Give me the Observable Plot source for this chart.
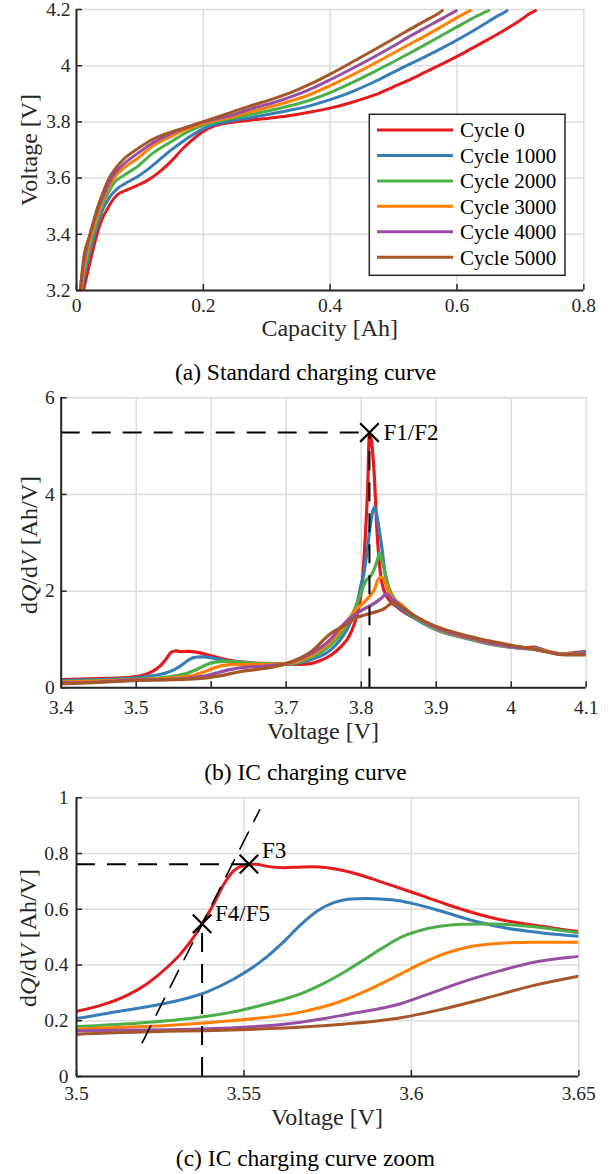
<!DOCTYPE html>
<html>
<head>
<meta charset="utf-8">
<script src="https://cdn.jsdelivr.net/npm/d3@7"></script>
<script src="https://cdn.jsdelivr.net/npm/@observablehq/plot@0.6"></script>
<style>
  body { margin: 0; background: #fff; }
  #page { position: relative; width: 611px; height: 1174px; font-family: "Liberation Serif", serif; }
  .caption { position: absolute; left: 0; width: 611px; text-align: center; font-size: 23.5px; line-height: 24px; color: #000; }
</style>
</head>
<body>
<div id="page"></div>
<script>
// ---- series labels and colours ----
const cycles = ["Cycle 0", "Cycle 1000", "Cycle 2000", "Cycle 3000", "Cycle 4000", "Cycle 5000"];
const cycleColors = ["#e41a1c", "#377eb8", "#4daf4a", "#ff7f00", "#984ea3", "#a65628"];

// ---- standard charging curves: [capacity Ah, voltage V] ----
const charge0 = [[0.011,3.2],[0.016,3.25],[0.022,3.307],[0.0326,3.402],[0.043,3.467],[0.048,3.487],[0.055,3.515],[0.064,3.540],[0.080,3.558],[0.096,3.574],[0.112,3.592],[0.127,3.615],[0.148,3.657],[0.169,3.708],[0.190,3.750],[0.201,3.768],[0.215,3.783],[0.24,3.797],[0.274,3.806],[0.31,3.815],[0.34,3.824],[0.369,3.835],[0.40,3.849],[0.435,3.870],[0.469,3.895],[0.50,3.925],[0.5215,3.946],[0.55,3.977],[0.58,4.010],[0.61,4.045],[0.64,4.082],[0.67,4.120],[0.70,4.162],[0.718,4.190],[0.724,4.196]];
const charge1000 = [[0.008,3.2],[0.013,3.26],[0.019,3.318],[0.0326,3.431],[0.043,3.496],[0.048,3.516],[0.055,3.540],[0.064,3.562],[0.077,3.581],[0.096,3.605],[0.112,3.630],[0.127,3.658],[0.148,3.698],[0.175,3.742],[0.201,3.777],[0.22,3.792],[0.24,3.802],[0.274,3.815],[0.31,3.830],[0.34,3.843],[0.369,3.858],[0.40,3.879],[0.435,3.908],[0.469,3.942],[0.50,3.977],[0.5215,4.001],[0.55,4.032],[0.58,4.067],[0.61,4.104],[0.64,4.144],[0.665,4.178],[0.675,4.190],[0.679,4.196]];
const charge2000 = [[0.007,3.2],[0.012,3.27],[0.018,3.33],[0.0326,3.45],[0.043,3.515],[0.052,3.556],[0.059,3.582],[0.077,3.613],[0.096,3.641],[0.12,3.688],[0.148,3.728],[0.175,3.764],[0.201,3.789],[0.22,3.801],[0.24,3.810],[0.274,3.826],[0.31,3.843],[0.34,3.859],[0.369,3.878],[0.40,3.904],[0.435,3.940],[0.469,3.978],[0.50,4.014],[0.5215,4.040],[0.55,4.075],[0.58,4.113],[0.60,4.138],[0.62,4.163],[0.64,4.186],[0.650,4.196]];
const charge3000 = [[0.007,3.2],[0.011,3.27],[0.017,3.34],[0.0326,3.465],[0.043,3.53],[0.052,3.574],[0.059,3.600],[0.077,3.640],[0.096,3.670],[0.12,3.713],[0.148,3.747],[0.175,3.775],[0.201,3.795],[0.22,3.806],[0.24,3.815],[0.274,3.836],[0.31,3.856],[0.34,3.876],[0.369,3.898],[0.40,3.929],[0.435,3.967],[0.469,4.007],[0.50,4.045],[0.5215,4.072],[0.55,4.106],[0.58,4.145],[0.60,4.171],[0.614,4.188],[0.621,4.196]];
const charge4000 = [[0.006,3.2],[0.01,3.28],[0.016,3.35],[0.0326,3.48],[0.043,3.54],[0.052,3.586],[0.059,3.613],[0.077,3.655],[0.096,3.687],[0.12,3.725],[0.148,3.757],[0.175,3.782],[0.201,3.800],[0.22,3.811],[0.24,3.821],[0.274,3.846],[0.31,3.868],[0.34,3.891],[0.369,3.917],[0.40,3.950],[0.435,3.990],[0.469,4.031],[0.50,4.070],[0.5215,4.099],[0.55,4.135],[0.58,4.172],[0.594,4.190],[0.599,4.196]];
const charge5000 = [[0.006,3.2],[0.0115,3.318],[0.02,3.39],[0.0326,3.491],[0.043,3.556],[0.051,3.598],[0.059,3.627],[0.075,3.669],[0.096,3.704],[0.122,3.740],[0.148,3.763],[0.175,3.782],[0.201,3.802],[0.232,3.825],[0.274,3.857],[0.31,3.882],[0.34,3.906],[0.369,3.935],[0.40,3.970],[0.435,4.013],[0.469,4.056],[0.50,4.096],[0.5215,4.124],[0.55,4.160],[0.57,4.185],[0.577,4.196]];

// ---- incremental capacity curves: [voltage V, dQ/dV Ah/V] ----
const ic0 = [[3.40,0.172],[3.45,0.19],[3.48,0.205],[3.50,0.234],[3.5072,0.255],[3.5151,0.291],[3.5211,0.333],[3.5271,0.392],[3.5311,0.44],[3.535,0.50],[3.5375,0.548],[3.541,0.62],[3.544,0.69],[3.547,0.739],[3.550,0.757],[3.5535,0.762],[3.557,0.754],[3.562,0.749],[3.567,0.752],[3.571,0.753],[3.575,0.749],[3.58,0.738],[3.585,0.722],[3.59,0.702],[3.595,0.682],[3.60,0.662],[3.605,0.641],[3.61,0.620],[3.615,0.600],[3.62,0.582],[3.625,0.567],[3.63,0.555],[3.64,0.537],[3.65,0.52],[3.67,0.505],[3.70,0.49],[3.72,0.485],[3.7324,0.50],[3.745,0.56],[3.759,0.668],[3.7724,0.84],[3.7857,1.12],[3.7947,1.53],[3.8013,2.15],[3.8057,3.19],[3.8088,4.22],[3.811,5.28],[3.8168,4.56],[3.8213,3.19],[3.8257,2.36],[3.8324,1.94],[3.848,1.67],[3.87,1.45],[3.90,1.22],[3.94,1.04],[3.97,0.93],[4.0,0.86],[4.02,0.83],[4.03,0.84],[4.04,0.80],[4.05,0.75],[4.07,0.70],[4.085,0.73],[4.1,0.75]];
const ic1000 = [[3.40,0.15],[3.45,0.17],[3.50,0.208],[3.5122,0.233],[3.5251,0.259],[3.533,0.281],[3.539,0.304],[3.547,0.350],[3.555,0.412],[3.562,0.485],[3.567,0.545],[3.5718,0.593],[3.5768,0.624],[3.5818,0.637],[3.5868,0.639],[3.5948,0.633],[3.5998,0.622],[3.6087,0.594],[3.6187,0.558],[3.6286,0.532],[3.6386,0.516],[3.65,0.503],[3.67,0.49],[3.70,0.49],[3.7324,0.58],[3.759,0.78],[3.7724,1.0],[3.7857,1.35],[3.7947,1.75],[3.799,2.08],[3.8035,2.36],[3.808,2.84],[3.8124,3.39],[3.8177,3.74],[3.8235,3.32],[3.828,2.84],[3.8324,2.29],[3.839,1.87],[3.857,1.6],[3.87,1.45],[3.90,1.20],[3.94,1.02],[3.97,0.91],[4.0,0.84],[4.02,0.81],[4.033,0.82],[4.045,0.76],[4.07,0.69],[4.085,0.72],[4.1,0.74]];
const ic2000 = [[3.40,0.13],[3.45,0.15],[3.50,0.179],[3.52,0.193],[3.535,0.21],[3.547,0.232],[3.555,0.255],[3.562,0.277],[3.568,0.302],[3.574,0.335],[3.58,0.375],[3.586,0.42],[3.592,0.466],[3.597,0.500],[3.602,0.522],[3.608,0.538],[3.615,0.546],[3.625,0.547],[3.636,0.538],[3.65,0.516],[3.67,0.50],[3.70,0.495],[3.7324,0.62],[3.759,0.88],[3.7724,1.1],[3.786,1.45],[3.797,1.85],[3.8057,2.2],[3.8146,2.36],[3.8213,2.63],[3.8244,2.79],[3.830,2.5],[3.8368,2.08],[3.8457,1.81],[3.86,1.6],[3.87,1.47],[3.90,1.21],[3.94,1.03],[3.97,0.92],[4.0,0.84],[4.03,0.80],[4.05,0.74],[4.07,0.70],[4.1,0.73]];
const ic3000 = [[3.40,0.12],[3.45,0.14],[3.50,0.171],[3.5271,0.183],[3.547,0.201],[3.567,0.231],[3.5768,0.261],[3.5868,0.309],[3.5948,0.356],[3.6017,0.398],[3.6097,0.44],[3.6167,0.464],[3.6266,0.478],[3.6366,0.482],[3.65,0.482],[3.67,0.485],[3.70,0.50],[3.7324,0.66],[3.759,0.95],[3.7724,1.18],[3.786,1.48],[3.7947,1.65],[3.799,1.70],[3.808,1.84],[3.8168,2.01],[3.8235,2.26],[3.828,2.29],[3.8324,2.15],[3.8413,1.87],[3.852,1.74],[3.87,1.5],[3.90,1.23],[3.94,1.04],[3.97,0.93],[4.0,0.85],[4.03,0.81],[4.05,0.75],[4.07,0.70],[4.1,0.72]];
const ic4000 = [[3.40,0.10],[3.45,0.12],[3.50,0.163],[3.537,0.170],[3.567,0.195],[3.5818,0.225],[3.5968,0.261],[3.6067,0.303],[3.6167,0.345],[3.6266,0.38],[3.6366,0.41],[3.65,0.431],[3.67,0.45],[3.70,0.50],[3.7324,0.70],[3.759,1.0],[3.7724,1.25],[3.786,1.45],[3.8035,1.63],[3.8168,1.74],[3.8257,1.84],[3.8337,1.94],[3.8413,1.84],[3.852,1.70],[3.87,1.5],[3.90,1.24],[3.94,1.05],[3.97,0.94],[4.0,0.85],[4.03,0.80],[4.05,0.74],[4.07,0.69],[4.1,0.72]];
const ic5000 = [[3.40,0.083],[3.45,0.11],[3.50,0.151],[3.5699,0.179],[3.5818,0.19],[3.5968,0.211],[3.6087,0.24],[3.6217,0.279],[3.6366,0.327],[3.6495,0.359],[3.67,0.40],[3.70,0.50],[3.7324,0.74],[3.759,1.12],[3.7813,1.32],[3.7947,1.46],[3.8035,1.50],[3.8168,1.56],[3.830,1.63],[3.8422,1.75],[3.852,1.69],[3.87,1.50],[3.90,1.27],[3.94,1.08],[3.97,0.97],[4.0,0.88],[4.03,0.80],[4.05,0.73],[4.07,0.68],[4.1,0.68]];

// ---- extracted features ----
const featureF12 = [{v: 3.811, q: 5.28, label: "F1/F2"}];
const featureF3 = [{v: 3.5515, q: 0.762, label: "F3"}];
const featureF45 = [{v: 3.5375, q: 0.548, label: "F4/F5"}];
const tangentF45 = [[3.5196, 0.121], [3.5547, 0.957]];

// ---- axis ticks ----
const capTicks = [0, 0.2, 0.4, 0.6, 0.8];
const voltTicksA = [3.2, 3.4, 3.6, 3.8, 4, 4.2];
const voltTicksB = [3.4, 3.5, 3.6, 3.7, 3.8, 3.9, 4, 4.1];
const icTicksB = [0, 2, 4, 6];
const voltTicksC = [3.5, 3.55, 3.6, 3.65];
const icTicksC = [0, 0.2, 0.4, 0.6, 0.8, 1];

// ---- tables ----
const chargeRows = [charge0, charge1000, charge2000, charge3000, charge4000, charge5000]
  .flatMap((pts, i) => pts.map(([cap, volt]) => ({cycle: cycles[i], cap, volt})));
const icRows = [ic0, ic1000, ic2000, ic3000, ic4000, ic5000]
  .flatMap((pts, i) => pts.map(([volt, dqdv]) => ({cycle: cycles[i], volt, dqdv})));

const W = 611;
const INK = "#262626";
const GRID = "#dcdcdc";
const FONT = "Liberation Serif, serif";
const TICK_FONT = 19.5;
const LABEL_FONT = 24;
const page = document.getElementById("page");

// frame: light grid, inward ticks, dark left/bottom axis lines, tick labels
function frameMarks({xTicks, yTicks, xDomain, yDomain, plotW, plotH, xPad, yPad}) {
  return {
    back: [
      Plot.gridX(xTicks, {stroke: GRID, strokeOpacity: 1, strokeWidth: 1.5}),
      Plot.gridY(yTicks, {stroke: GRID, strokeOpacity: 1, strokeWidth: 1.5})
    ],
    front: [
      Plot.ruleX(xTicks, {insetTop: plotH - 6, stroke: INK, strokeWidth: 1.5}),
      Plot.ruleY(yTicks, {insetRight: plotW - 6, stroke: INK, strokeWidth: 1.5}),
      Plot.ruleY([yDomain[0]], {stroke: INK, strokeWidth: 2}),
      Plot.ruleX([xDomain[0]], {stroke: INK, strokeWidth: 2}),
      Plot.axisX(xTicks, {tickSize: 0, tickPadding: xPad, tickFormat: d => String(d), fill: INK, fontFamily: FONT, label: null}),
      Plot.axisY(yTicks, {tickSize: 0, tickPadding: yPad, tickFormat: d => String(d), fill: INK, fontFamily: FONT, label: null})
    ]
  };
}

function makePanel({top, height, ml, mr, mt, mb, xDomain, yDomain, xTicks, yTicks, xPad, yPad, marks}) {
  const plotW = W - ml - mr, plotH = height - mt - mb;
  const f = frameMarks({xTicks, yTicks, xDomain, yDomain, plotW, plotH, xPad, yPad});
  const svg = Plot.plot({
    width: W, height,
    marginLeft: ml, marginRight: mr, marginTop: mt, marginBottom: mb,
    x: {domain: xDomain, label: null},
    y: {domain: yDomain, label: null},
    color: {domain: cycles, range: cycleColors},
    style: `font-family: ${FONT}; font-size: ${TICK_FONT}px; background: white; overflow: visible;`,
    marks: [...f.back, ...marks, ...f.front]
  });
  svg.setAttribute("font-family", FONT);
  svg.style.fontFamily = FONT;
  svg.style.position = "absolute";
  svg.style.left = "0px";
  svg.style.top = top + "px";
  page.appendChild(svg);
  return d3.select(svg);
}

function addText(sel, x, y, text, size, opts = {}) {
  return sel.append("text").attr("x", x).attr("y", y).attr("dy", "0.35em")
    .attr("text-anchor", opts.anchor || "middle").attr("font-family", FONT)
    .attr("font-size", size).attr("fill", opts.fill || INK).text(text);
}
function addIcLabel(sel, x, y) {
  const t = sel.append("text").attr("transform", `translate(${x},${y}) rotate(-90)`)
    .attr("dy", "0.35em").attr("text-anchor", "middle").attr("font-family", FONT)
    .attr("font-size", LABEL_FONT).attr("fill", INK);
  t.append("tspan").text("d");
  t.append("tspan").attr("font-style", "italic").text("Q");
  t.append("tspan").text("/d");
  t.append("tspan").attr("font-style", "italic").text("V");
  t.append("tspan").text(" [Ah/V]");
}
function addCaption(text, centerY) {
  const div = document.createElement("div");
  div.className = "caption";
  div.style.top = (centerY - 12) + "px";
  div.textContent = text;
  page.appendChild(div);
}

const DASH = "19,12";
const lineOpts = {z: "cycle", stroke: "cycle", curve: "monotone-x", strokeLinejoin: "round", strokeLinecap: "round", clip: true};

// ---- (a) standard charging curve ----
const svgA = makePanel({
  top: 0, height: 350, ml: 76, mr: 27.7, mt: 9, mb: 60,
  xDomain: [0, 0.8], yDomain: [3.2, 4.2], xTicks: capTicks, yTicks: voltTicksA, xPad: 7.6, yPad: 6,
  marks: [Plot.line(chargeRows, {...lineOpts, x: "cap", y: "volt", strokeWidth: 3})]
});
addText(svgA, 329.7, 328, "Capacity [Ah]", LABEL_FONT);
svgA.append("text").attr("transform", "translate(29,150) rotate(-90)").attr("dy", "0.35em")
  .attr("text-anchor", "middle").attr("font-family", FONT).attr("font-size", LABEL_FONT)
  .attr("fill", INK).text("Voltage [V]");

// legend box
const legend = svgA.append("g");
legend.append("rect").attr("x", 369.3).attr("y", 114.3).attr("width", 195.7).attr("height", 161)
  .attr("fill", "white").attr("stroke", INK).attr("stroke-width", 1.5);
cycles.forEach((name, i) => {
  const y = 130 + i * 25.45;
  legend.append("line").attr("x1", 377).attr("x2", 453).attr("y1", y).attr("y2", y)
    .attr("stroke", cycleColors[i]).attr("stroke-width", 3);
  addText(legend, 460, y, name, 21, {anchor: "start", fill: "#000"});
});
addCaption("(a) Standard charging curve", 372);

// ---- (b) IC charging curve ----
const svgB = makePanel({
  top: 385, height: 365, ml: 60.7, mr: 25.3, mt: 12.3, mb: 62.7,
  xDomain: [3.4, 4.1], yDomain: [0, 6], xTicks: voltTicksB, yTicks: icTicksB, xPad: 12.5, yPad: 6.5,
  marks: [
    Plot.line(icRows, {...lineOpts, x: "volt", y: "dqdv", strokeWidth: 3.2}),
    Plot.ruleY(featureF12, {y: "q", x1: 3.4, x2: "v", stroke: "black", strokeWidth: 2, strokeDasharray: DASH}),
    Plot.ruleX(featureF12, {x: "v", y1: 0, y2: "q", stroke: "black", strokeWidth: 2, strokeDasharray: DASH}),
    Plot.dot(featureF12, {x: "v", y: "q", symbol: "times", r: 8.5, stroke: "black", strokeWidth: 2.2}),
    Plot.text(featureF12, {x: "v", y: "q", text: "label", textAnchor: "start", dx: 14, fontSize: 23, fontFamily: FONT, fill: "black"})
  ]
});
addText(svgB, 323, 346, "Voltage [V]", LABEL_FONT);
addIcLabel(svgB, 29, 160);
addCaption("(b) IC charging curve", 772);

// ---- (c) IC charging curve zoom ----
const icRowsZoom = icRows.filter(d => d.volt >= 3.45 && d.volt <= 3.7);
const svgC = makePanel({
  top: 785, height: 365, ml: 76, mr: 32.7, mt: 12.3, mb: 74,
  xDomain: [3.5, 3.65], yDomain: [0, 1], xTicks: voltTicksC, yTicks: icTicksC, xPad: 9.6, yPad: 8,
  marks: [
    Plot.line(icRowsZoom, {...lineOpts, x: "volt", y: "dqdv", strokeWidth: 3}),
    Plot.line(tangentF45, {x: d => d[0], y: d => d[1], stroke: "black", strokeWidth: 1.6, strokeDasharray: DASH}),
    Plot.ruleY(featureF3, {y: "q", x1: 3.5, x2: "v", stroke: "black", strokeWidth: 2, strokeDasharray: DASH}),
    Plot.ruleX(featureF45, {x: "v", y1: 0, y2: "q", stroke: "black", strokeWidth: 2, strokeDasharray: DASH}),
    Plot.dot([...featureF3, ...featureF45], {x: "v", y: "q", symbol: "times", r: 8.5, stroke: "black", strokeWidth: 2.2}),
    Plot.text(featureF3, {x: "v", y: "q", text: "label", textAnchor: "start", dx: 13, dy: -14, fontSize: 23, fontFamily: FONT, fill: "black"}),
    Plot.text(featureF45, {x: "v", y: "q", text: "label", textAnchor: "start", dx: 13, dy: -10, fontSize: 23, fontFamily: FONT, fill: "black"})
  ]
});
addText(svgC, 327, 332, "Voltage [V]", LABEL_FONT);
addIcLabel(svgC, 28, 153);
addCaption("(c) IC charging curve zoom", 1158);
</script>
</body>
</html>
